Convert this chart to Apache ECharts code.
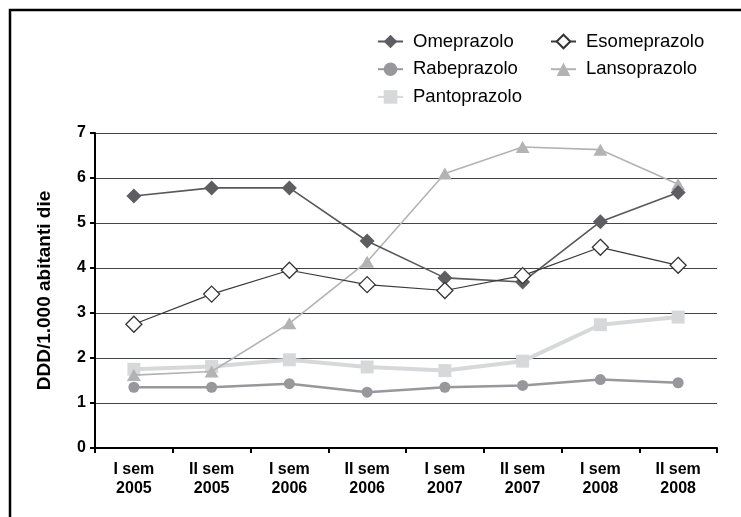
<!DOCTYPE html>
<html>
<head>
<meta charset="utf-8">
<script src="https://cdn.jsdelivr.net/npm/echarts@6/dist/echarts.min.js"></script>
<style>
html,body{margin:0;padding:0;background:#fff;}
#chart{width:741px;height:517px;}
</style>
</head>
<body>
<div id="chart"></div>
<script>
const categories = ['I sem\n2005','II sem\n2005','I sem\n2006','II sem\n2006','I sem\n2007','II sem\n2007','I sem\n2008','II sem\n2008'];
const omeprazolo = [5.6, 5.78, 5.78, 4.6, 3.78, 3.69, 5.03, 5.68];
const esomeprazolo = [2.75, 3.42, 3.95, 3.63, 3.5, 3.83, 4.46, 4.06];
const rabeprazolo = [1.35, 1.35, 1.43, 1.24, 1.35, 1.39, 1.52, 1.45];
const lansoprazolo = [1.62, 1.7, 2.77, 4.14, 6.1, 6.69, 6.63, 5.86];
const pantoprazolo = [1.75, 1.81, 1.96, 1.8, 1.72, 1.93, 2.74, 2.91];
const yTicks = [0,1,2,3,4,5,6,7];

const FONT = 'Liberation Sans, Arial, Helvetica, sans-serif';
const chart = echarts.init(document.getElementById('chart'));
chart.setOption({
  animation: false,
  backgroundColor: '#fff',
  textStyle: {fontFamily: FONT},
  graphic: [{
    type: 'polyline', silent: true,
    shape: {points: [[10,517],[10,10],[741,10]]},
    style: {stroke: '#000', lineWidth: 2.5, fill: null}
  }],
  legend: [{
    orient: 'vertical', left: 377, top: 32, padding: 0,
    itemWidth: 25, itemHeight: 17, itemGap: 8.7,
    textStyle: {fontFamily: FONT, fontSize: 18.5, color: '#000', padding: [0,0,0,5]},
    data: ['Omeprazolo','Rabeprazolo','Pantoprazolo']
  },{
    orient: 'vertical', left: 550, top: 32, padding: 0,
    itemWidth: 25, itemHeight: 17, itemGap: 8.7,
    textStyle: {fontFamily: FONT, fontSize: 18.5, color: '#000', padding: [0,0,0,5]},
    data: ['Esomeprazolo','Lansoprazolo']
  }],
  grid: {left: 95, right: 24, top: 133, bottom: 69},
  xAxis: {
    type: 'category', data: categories, boundaryGap: true,
    axisLine: {lineStyle: {color: '#000', width: 2}},
    axisTick: {show: true, interval: 0, length: 5, lineStyle: {color: '#000', width: 2}},
    axisLabel: {interval: 0, color: '#000', fontWeight: 'bold', fontSize: 16, lineHeight: 19, margin: 12, fontFamily: FONT}
  },
  yAxis: {
    type: 'value', min: yTicks[0], max: yTicks[yTicks.length-1], interval: 1,
    name: 'DDD/1.000 abitanti die', nameLocation: 'middle', nameGap: 41,
    nameTextStyle: {color: '#000', fontWeight: 'bold', fontSize: 19, fontFamily: FONT},
    axisLine: {show: true, lineStyle: {color: '#000', width: 2}},
    axisTick: {show: true, length: 5, lineStyle: {color: '#000', width: 2}},
    axisLabel: {color: '#000', fontWeight: 'bold', fontSize: 16, margin: 9, fontFamily: FONT},
    splitLine: {show: true, lineStyle: {color: '#444', width: 1}}
  },
  series: [
    {name: 'Omeprazolo', type: 'line', data: omeprazolo, z: 4,
     symbol: 'diamond', symbolSize: 15,
     lineStyle: {color: '#58585c', width: 1.6},
     itemStyle: {color: '#5e5e62', borderWidth: 0}},
    {name: 'Esomeprazolo', type: 'line', data: esomeprazolo, z: 5,
     symbol: 'diamond', symbolSize: 16,
     lineStyle: {color: '#3a3a3a', width: 1.2},
     itemStyle: {color: '#fff', borderColor: '#333', borderWidth: 1.3}},
    {name: 'Rabeprazolo', type: 'line', data: rabeprazolo, z: 3,
     symbol: 'circle', symbolSize: 11,
     lineStyle: {color: '#98989c', width: 2.5},
     itemStyle: {color: '#98989c', borderWidth: 0}},
    {name: 'Lansoprazolo', type: 'line', data: lansoprazolo, z: 3,
     symbol: 'triangle', symbolSize: [14, 12],
     lineStyle: {color: '#b3b3b5', width: 1.6},
     itemStyle: {color: '#b3b3b5', borderWidth: 0}},
    {name: 'Pantoprazolo', type: 'line', data: pantoprazolo, z: 2,
     symbol: 'rect', symbolSize: 13,
     lineStyle: {color: '#d7d8da', width: 4},
     itemStyle: {color: '#d7d8da', borderWidth: 0}}
  ]
});
</script>
</body>
</html>
